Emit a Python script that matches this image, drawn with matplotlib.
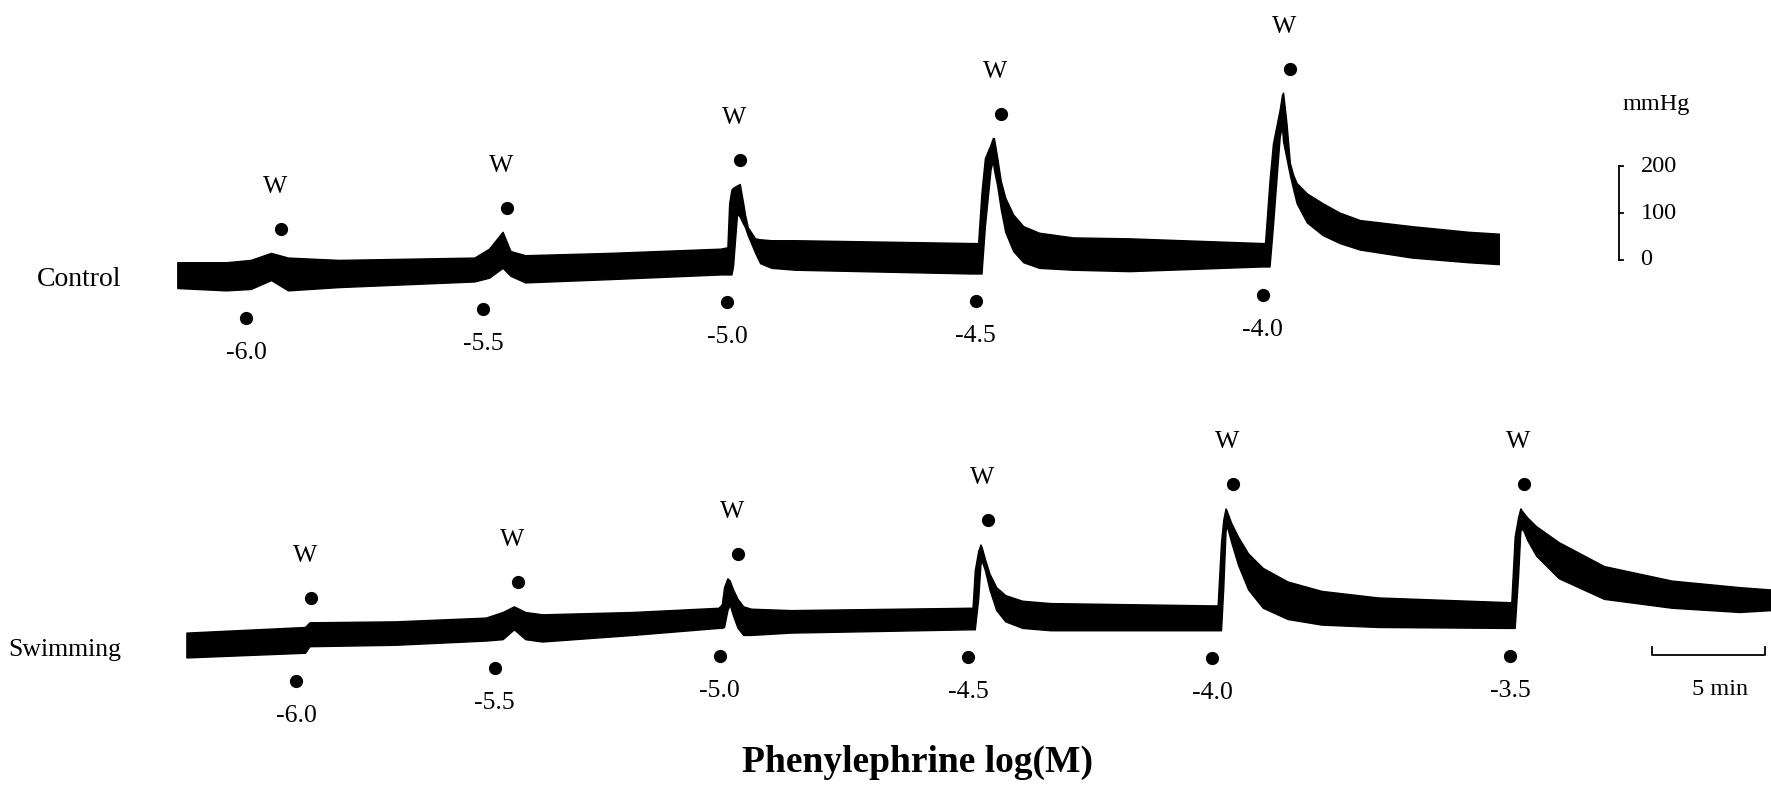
import numpy as np
import matplotlib
matplotlib.use("Agg")
import matplotlib.pyplot as plt

plt.rcParams['font.family'] = ['Liberation Serif', 'DejaVu Serif']

# ---------------- data (time in min, pressure in mmHg) ----------------
# Control trace: upper / lower envelope of the pressure band
ctrl_t = [0.00, 2.15, 3.25, 4.15, 4.90, 7.15, 13.15, 13.80, 14.40, 14.75, 15.40, 19.15,
          24.05, 24.35, 24.43, 24.53, 24.60, 24.78, 24.90, 25.05, 25.13, 25.25, 25.58,
          25.80, 26.30, 27.35,
          35.15, 35.45, 35.60, 35.75, 36.00, 36.10, 36.15, 36.30, 36.45, 36.65, 37.00,
          37.45, 38.15, 39.65, 42.15,
          48.00, 48.15, 48.35, 48.50, 48.80, 48.90, 48.95, 49.10, 49.25, 49.40, 49.55,
          50.00, 50.70, 51.45, 52.35, 54.65, 57.15, 58.50]
ctrl_hi = [43, 43, 48, 63, 53, 48, 53, 72, 108, 67, 58, 63,
           72, 75, 169, 198, 202, 207, 210, 169, 145, 118, 94,
           92, 90, 90,
           84, 84, 193, 265, 294, 308, 308, 265, 217, 181, 145,
           120, 106, 96, 94,
           84, 84, 217, 296, 369, 400, 405, 340, 255, 229, 212,
           190, 169, 149, 133, 120, 108, 104]
ctrl_lo = [-12, -17, -14, 5, -17, -10, 2, 10, 31, 14, 0, 7,
           17, 17, 17, 17, 34, 147, 140, 125, 118, 101, 63,
           41, 31, 27,
           19, 19, 19, 120, 241, 260, 241, 205, 157, 108, 67,
           43, 31, 27, 24,
           34, 34, 34, 120, 311, 333, 301, 265, 229, 198, 169,
           128, 101, 84, 70, 53, 43, 39]
ctrl_doses = ['-6.0', '-5.5', '-5.0', '-4.5', '-4.0']
ctrl_dose_t = [3.05, 13.55, 24.35, 35.35, 48.05]
ctrl_wash_t = [4.6, 14.6, 24.9, 36.45, 49.25]

# Swimming trace
swim_t = [0.00, 5.25, 5.45, 9.25, 13.25, 14.00, 14.50, 15.00, 15.75, 19.75,
          23.55, 23.70, 23.80, 23.95, 24.05, 24.20, 24.40, 24.65, 25.00, 26.75,
          34.65, 34.80, 34.90, 35.05, 35.15, 35.20, 35.35, 35.55, 35.85, 36.25,
          37.00, 38.25,
          45.50, 45.65, 45.80, 45.90, 46.00, 46.05, 46.25, 46.55, 47.00, 47.65,
          48.75, 50.25, 52.75,
          58.50, 58.65, 58.80, 58.95, 59.05, 59.15, 59.35, 59.75, 60.75, 62.75,
          65.75, 68.75, 70.15]
swim_hi = [48, 60, 70, 72, 80, 92, 104, 92, 87, 92,
           101, 108, 145, 164, 159, 140, 120, 104, 99, 96,
           101, 101, 181, 222, 236, 231, 205, 174, 145, 128,
           116, 111,
           106, 106, 241, 289, 313, 308, 282, 253, 217, 186,
           157, 137, 123,
           113, 113, 253, 294, 313, 306, 294, 275, 241, 190,
           159, 145, 140]
swim_lo = [-5, 5, 19, 22, 31, 34, 55, 34, 29, 43,
           58, 58, 60, 96, 108, 84, 58, 43, 43, 48,
           55, 55, 55, 120, 193, 202, 181, 140, 96, 72,
           58, 53,
           53, 53, 53, 145, 265, 277, 241, 193, 140, 101,
           77, 65, 60,
           58, 58, 58, 169, 265, 270, 246, 212, 164, 120,
           101, 92, 96]
swim_doses = ['-6.0', '-5.5', '-5.0', '-4.5', '-4.0', '-3.5']
swim_dose_t = [4.85, 13.65, 23.6, 34.6, 45.4, 58.6]
swim_wash_t = [5.5, 14.7, 24.4, 35.5, 46.35, 59.2]

group_names = ['Control', 'Swimming']
pressure_scale = [0, 100, 200]      # mmHg calibration bar
time_scale_min = 5                  # min calibration bar

# ---------------- layout ----------------
W, H = 1771, 790
fig = plt.figure(figsize=(W / 100, H / 100), dpi=100)
PX_PER_MIN = 22.59
PX_PER_MMHG = 0.4687


def make_axes(origin_px):
    ox, oy = origin_px
    ax = fig.add_axes([0, 0, 1, 1])
    ax.set_xlim(-ox / PX_PER_MIN, (W - ox) / PX_PER_MIN)
    ax.set_ylim(-oy / PX_PER_MMHG, (H - oy) / PX_PER_MMHG)
    ax.axis('off')
    ax.patch.set_alpha(0)
    return ax


ax_c = make_axes((177.3, 507.6))
ax_s = make_axes((186.4, 134.9))

FS = 18.5
PT = 72 / 100  # points per pixel


def draw_trace(ax, t, hi, lo, doses, dose_t, wash_t):
    t = np.asarray(t, float)
    hi = np.asarray(hi, float)
    lo = np.asarray(lo, float)
    ax.fill_between(t, lo, hi, color='black', linewidth=1.0, edgecolor='black')
    for lab, td, tw in zip(doses, dose_t, wash_t):
        ylo = np.interp(td - 0.3, t, lo)
        ydd = ylo - 28 / PX_PER_MMHG
        ax.plot(td, ydd, 'o', color='black', markersize=8.5)
        ax.annotate(lab, (td, ydd), xytext=(0, -35 * PT),
                    textcoords='offset points', ha='center', va='center', fontsize=FS)
        mask = (t >= td) & (t <= tw + 0.5)
        ypk = hi[mask].max()
        ydot = ypk + 24 / PX_PER_MMHG
        ax.plot(tw, ydot, 'o', color='black', markersize=8.5)
        ax.annotate('W', (tw, ydot), xytext=(-6 * PT, 42 * PT),
                    textcoords='offset points', ha='center', va='center', fontsize=FS)


draw_trace(ax_c, ctrl_t, ctrl_hi, ctrl_lo, ctrl_doses, ctrl_dose_t, ctrl_wash_t)
draw_trace(ax_s, swim_t, swim_hi, swim_lo, swim_doses, swim_dose_t, swim_wash_t)

# group labels
fig.text(79 / W, 1 - 279 / H, group_names[0], ha='center', va='center', fontsize=FS + 1.5)
fig.text(65 / W, 1 - 650 / H, group_names[1], ha='center', va='center', fontsize=FS)

# pressure calibration bar (control axes)
bx = 63.8
base = 48
ax_c.plot([bx, bx], [base + pressure_scale[0], base + pressure_scale[-1]],
          color='black', lw=1.3)
for v in pressure_scale:
    ax_c.plot([bx, bx + 0.2], [base + v, base + v], color='black', lw=1.3)
    ax_c.annotate(str(v), (bx, base + v), xytext=(22 * PT, 0), textcoords='offset points',
                  ha='left', va='center', fontsize=FS - 1)
ax_c.annotate('mmHg', (bx, base + pressure_scale[-1]), xytext=(38 * PT, 62 * PT),
              textcoords='offset points', ha='center', va='center', fontsize=FS - 1)

# time calibration bar (swimming axes)
tx0 = 64.9
ty = 0
tick = 8 / PX_PER_MMHG
ax_s.plot([tx0, tx0, tx0 + time_scale_min, tx0 + time_scale_min],
          [ty + tick, ty, ty, ty + tick], color='black', lw=1.3)
ax_s.annotate(f'{time_scale_min} min', (tx0 + time_scale_min * 0.6, ty),
              xytext=(0, -34 * PT), textcoords='offset points',
              ha='center', va='center', fontsize=FS - 1)

fig.text(917 / W, 1 - 762 / H, 'Phenylephrine log(M)', ha='center', va='center',
         fontsize=27, fontweight='bold')

fig.savefig('out.png', dpi=100, facecolor='white')
